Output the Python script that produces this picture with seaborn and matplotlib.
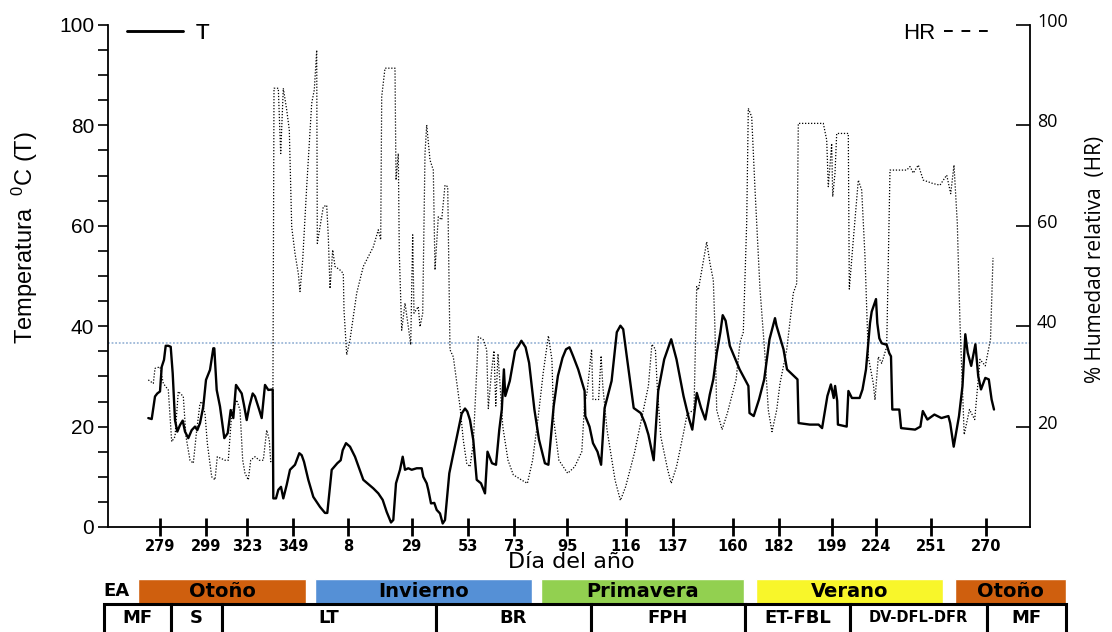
import matplotlib
matplotlib.use("Agg")
import matplotlib.pyplot as plt
import matplotlib.transforms as mtransforms
from matplotlib.lines import Line2D
from matplotlib.ticker import MultipleLocator
import numpy as np
import pandas as pd
import seaborn as sns

# ---------------------------------------------------------------------------
# Series: position along the record (x) and reading
# ---------------------------------------------------------------------------
t_pos = [40.3, 43.7, 47, 49.3, 52, 53.7, 56, 57.7, 60.3, 62.7, 64.7, 67, 69.3, 72, 74.7, 77,
         80.3, 83.7, 87, 89.3, 92, 95.3, 98, 102, 105.3, 106.3, 108.7, 112, 116.3, 119.7, 122.7,
         125.3, 128, 130.3, 133.7, 136, 138.7, 141.3, 144.7, 147, 151.3, 153.7, 157, 160.3, 164.7,
         165.3, 168, 170.3, 173, 175.3, 178.7, 182, 187, 191.3, 193.7, 196, 200.3, 205.3, 212, 217,
         219.3, 223.7, 229.3, 232.7, 234.7, 238, 242, 247, 255.3, 265.3, 270.3, 274.7, 278.7, 283,
         285.3, 288, 292, 294.7, 297, 300.3, 303.7, 308.7, 313.7, 315.3, 318.7, 320.3, 323, 326.3,
         328.7, 332, 334.7, 337, 341.3, 344.7, 350.3, 353.7, 357, 359.3, 362, 365.3, 368.7, 373,
         377, 379.5, 384, 388, 391.3, 393.8, 395.9, 397.3, 401.8, 407.1, 410.6, 413.4, 417.6,
         421.1, 426.4, 431, 436.9, 440.4, 445.7, 449.9, 454.5, 458, 461.5, 465, 470.2, 476.6,
         477.3, 481.5, 485, 489.5, 493.1, 496.6, 503.6, 508.8, 512.4, 515.2, 518.7, 525.7, 532.7,
         536.9, 540.4, 545.7, 550.2, 556.2, 563.2, 568.5, 575.5, 580.8, 584.3, 588.8, 593.1,
         597.3, 601.8, 605.3, 608.8, 612.4, 614.7, 617.6, 621.8, 631.6, 640.4, 641.5, 645.7, 651,
         656.2, 661.5, 667, 668.5, 675.5, 679, 689.5, 690.6, 701.8, 710.6, 714.1, 719.4, 722.9,
         725.7, 727.1, 729.2, 729.9, 738.7, 740.4, 743.9, 751.6, 754.5, 758, 762, 763.7, 768,
         769.3, 771.3, 773.7, 778.7, 781.3, 783, 784.3, 791.3, 793.1, 807.1, 812.4, 814.8, 819.4,
         826.4, 833.4, 840.4, 842.2, 845.7, 851, 854.5, 857.3, 859.7, 863.2, 867.4, 870.2, 873,
         877.3, 880.8, 883.6, 886]
t_val = [21.7, 21.5, 26.0, 26.6, 27.0, 31.9, 33.3, 36.1, 36.1, 35.9, 30.6, 21.3, 19.0, 20.3, 21.2,
         19.0, 17.7, 19.3, 20.0, 19.3, 20.7, 24.0, 29.3, 31.3, 35.6, 35.6, 27.3, 24.0, 17.7, 18.7,
         23.3, 21.7, 28.3, 27.6, 26.6, 24.3, 21.3, 24.0, 26.6, 26.0, 23.3, 21.7, 28.3, 27.3, 27.4,
         5.7, 5.7, 7.4, 8.0, 5.7, 8.4, 11.4, 12.4, 14.7, 14.3, 13.0, 9.4, 6.0, 4.0, 2.8,
         2.8, 11.4, 12.7, 13.3, 15.3, 16.7, 16.0, 14.0, 9.4, 7.7, 6.7, 5.4, 3.0, 0.9,
         1.4, 8.7, 11.4, 14.0, 11.4, 11.7, 11.4, 11.7, 11.7, 10.0, 8.7, 7.4, 4.7, 4.8,
         3.4, 2.7, 0.7, 1.4, 10.7, 14.0, 19.3, 22.6, 23.6, 23.0, 21.3, 17.3, 9.4, 8.7,
         6.7, 15.0, 12.7, 12.4, 19.4, 23.4, 31.4, 26.1, 29.1, 35.1, 36.1, 37.1, 35.8,
         32.7, 23.4, 17.4, 12.7, 12.4, 24.1, 30.1, 33.7, 35.4, 35.8, 34.1, 31.4, 27.1,
         22.1, 20.0, 16.7, 15.0, 12.4, 23.7, 29.1, 38.8, 40.1, 39.4, 34.1, 23.7, 22.7,
         20.7, 18.4, 13.3, 27.1, 33.4, 37.4, 33.4, 26.1, 21.7, 19.4, 26.7, 23.7,
         21.4, 26.4, 29.4, 34.7, 38.8, 42.2, 41.1, 36.1, 31.4, 28.1, 22.7, 22.1, 25.4,
         29.4, 37.4, 41.6, 40.1, 35.4, 31.4, 29.4, 20.7, 20.4, 20.4, 19.7, 26.1, 28.4,
         25.7, 28.1, 25.1, 20.4, 20.0, 27.1, 25.7, 25.7, 27.4, 31.4, 40.6, 42.9, 45.4,
         40.6, 37.6, 36.6, 36.3, 34.6, 34.0, 23.4, 23.4, 19.7, 19.4, 20.0, 23.1, 21.4,
         22.4, 21.7, 22.1, 20.7, 16.0, 22.1, 28.1, 38.4, 34.7, 32.1, 36.4, 30.1, 27.4,
         29.7, 29.4, 25.4, 23.4]

hr_pos = [40.3, 45.3, 47, 52, 55.3, 60.3, 63.7, 67, 70.3, 75.3, 78, 82, 85.3, 88.7, 92, 93.7, 97,
          99.3, 103.7, 107, 109.3, 112.7, 117, 120.3, 123.7, 128.7, 132, 134.7, 137, 140.3,
          142.7, 147, 151.3, 155.3, 158.7, 161.3, 162.7, 164.7, 166, 170.3, 172.7, 175.3, 178.7,
          181.3, 183.7, 187, 190.3, 192, 194.7, 198.7, 203.7, 206.3, 208.7, 209.3, 212, 215.3,
          218.7, 220.3, 222, 224.7, 227, 232, 235.3, 236, 238.7, 242, 248.7, 255.3, 265.3, 270.3,
          272.7, 273.7, 277, 287, 288, 290.3, 291.3, 293.7, 297, 300.3, 302.7, 304.7, 306, 310.3,
          312, 314.7, 317, 318.7, 322, 325.3, 327, 330.3, 333.7, 337, 339.7, 342, 345.3, 352,
          355.3, 358.7, 362, 365.3, 370.3, 375.3, 378.7, 380.3, 383.7, 386, 387.8, 390, 394.8,
          400, 405.3, 414.1, 419.4, 424.6, 429.9, 435.2, 440.4, 443.9, 445.7, 450.9, 459.7,
          466.7, 473.8, 476.6, 479, 483.6, 485, 490.6, 493.1, 494.8, 499, 507.1, 512.4, 517.6,
          526.4, 533.4, 540.4, 543.9, 547.4, 549.2, 552.7, 559.7, 563.2, 568.5, 575.5, 579, 586,
          588.7, 590.3, 598.7, 602, 605.3, 607, 608.7, 614.1, 619.4, 628.1, 632, 635.3, 638.7,
          640.3, 643.7, 647, 652, 657, 660.3, 664, 668.7, 672, 678.7, 685.3, 688.7, 690.3, 715.3,
          718.7, 720.3, 723.7, 724.7, 727, 728.7, 740.3, 741.3, 745.3, 750.3, 753.7, 757, 760.3,
          765.3, 767, 770.3, 773.7, 778.7, 782, 798.7, 802, 805.3, 810.3, 815.3, 825.3, 832,
          838.7, 842.7, 846, 849.3, 852, 855.3, 856.2, 861.5, 866.7, 872, 877.3, 882.5, 885]
hr_val = [29.3, 28.6, 31.6, 31.9, 28.6, 27.3, 17.0, 18.0, 27.0, 26.0, 18.0, 13.3, 12.7, 19.3, 24.6,
          25.0, 22.6, 16.7, 10.0, 9.4, 14.0, 13.7, 13.3, 13.3, 22.6, 25.3, 23.3, 13.3, 10.7, 9.4,
          13.3, 14.0, 13.3, 13.3, 19.3, 17.3, 13.0, 13.3, 87.4, 87.4, 74.4, 87.4, 83.1,
          79.1, 59.8, 54.5, 50.5, 46.9, 53.2, 67.8, 84.4, 87.1, 95.0, 56.5, 59.8, 63.8,
          64.1, 57.8, 47.5, 55.2, 51.9, 51.2, 50.5, 43.2, 34.3, 37.3, 46.6, 51.9, 55.8, 59.2,
          57.2, 85.7, 91.4, 91.4, 69.1, 74.4, 54.5, 39.2, 44.6, 39.9, 36.3, 58.2, 42.6, 43.9,
          39.9, 42.6, 74.4, 80.1, 73.1, 71.1, 51.2, 61.8, 61.2, 68.1, 67.8, 35.3, 33.9, 24.0,
          17.3, 12.7, 12.0, 16.7, 37.9, 37.3, 35.3, 23.6, 31.3, 35.1, 24.1, 34.5, 20.0,
          13.3, 10.4, 9.3, 8.7, 13.3, 21.4, 30.7, 38.1, 33.4, 21.4, 13.3, 10.7,
          12.0, 15.0, 24.7, 26.7, 35.4, 25.4, 25.4, 34.1, 28.1, 19.4, 9.3, 5.3, 8.0,
          14.7, 21.4, 28.1, 36.4, 35.4, 28.1, 18.1, 11.4, 8.7, 12.0, 18.7, 22.4, 23.4,
          47.9, 47.2, 56.8, 52.5, 49.2, 39.2, 23.3, 19.4, 22.7, 29.4, 36.8, 38.8, 60.7,
          83.4, 81.7, 67.3, 47.4, 34.1, 23.3, 19.0, 23.3, 28.6, 35.3, 46.6, 48.5, 80.4, 80.4,
          77.1, 67.8, 76.4, 65.8, 70.5, 78.4, 78.4, 47.4, 57.2, 69.1, 67.1, 53.8, 33.9,
          28.6, 25.3, 33.9, 32.6, 35.9, 71.1, 71.1, 71.8, 70.5, 72.1, 69.1, 68.4, 68.1,
          70.1, 66.4, 72.1, 60.5, 40.6, 23.3, 18.4, 23.4, 21.4, 33.4, 32.1, 37.4, 53.6]

hr_reference = 36.6

# Day-of-year tick labels and where they fall along the record
day_ticks = [52, 98, 139, 185, 240, 304, 360, 406, 459, 518, 565, 625, 671, 724, 768, 823, 878]
day_labels = ["279", "299", "323", "349", "8", "29", "53", "73", "95", "116", "137", "160",
              "182", "199", "224", "251", "270"]

# Seasons band
season_names = ["Otoño", "Invierno", "Primavera", "Verano", "Otoño"]
season_start = [30, 207, 433, 648, 847]
season_end = [198, 424, 636, 835, 958]
season_colors = ["#CF5F0E", "#5590D6", "#92D050", "#F8F62A", "#CF5F0E"]

# Phenological stages row
stage_names = ["MF", "S", "LT", "BR", "FPH", "ET-FBL", "DV-DFL-DFR", "MF"]
stage_edges = [-4, 63, 114, 328, 483, 637, 742, 879, 958]

# ---------------------------------------------------------------------------
sns.set_style("ticks")
plt.rcParams["font.family"] = ["Liberation Sans", "DejaVu Sans"]
plt.rcParams["mathtext.fontset"] = "custom"
plt.rcParams["mathtext.rm"] = "Liberation Sans"
for key in ("text.color", "axes.labelcolor", "xtick.color", "ytick.color", "axes.edgecolor"):
    plt.rcParams[key] = "black"

W, H = 1112, 632
fig = plt.figure(figsize=(W / 100, H / 100), dpi=100)
ax = fig.add_axes([108 / W, 1 - 527 / H, 922 / W, 502 / H])
ax2 = ax.twinx()

df_t = pd.DataFrame({"pos": t_pos, "T": t_val})
df_hr = pd.DataFrame({"pos": hr_pos, "HR": hr_val})

ax.axhline(hr_reference, color="#9DB8D8", lw=1.3, ls=(0, (1, 1)), zorder=1)
sns.lineplot(data=df_t, x="pos", y="T", ax=ax, color="black", lw=1.7,
             estimator=None, sort=False, legend=False)
sns.lineplot(data=df_hr, x="pos", y="HR", ax=ax2, color="black", lw=0.9,
             ls=(0, (1, 1.4)), estimator=None, sort=False, legend=False)

for a in (ax, ax2):
    a.set_xlim(0, 922)
    a.set_ylim(0, 100)
    a.spines["top"].set_visible(False)
ax.spines["right"].set_visible(False)
ax2.spines["left"].set_visible(False)
ax2.spines["bottom"].set_visible(False)
for s in ("left", "bottom"):
    ax.spines[s].set_linewidth(1.3)
ax2.spines["right"].set_linewidth(1.3)

# Left axis: temperature
ax.set_yticks([0, 20, 40, 60, 80, 100])
ax.yaxis.set_minor_locator(MultipleLocator(5))
ax.tick_params(axis="y", which="both", direction="out", length=7, width=1.2, pad=3,
               labelsize=15, colors="black")
ax.set_ylabel(r"Temperatura  $\mathregular{^0}$C (T)", fontsize=17)
ax.yaxis.set_label_coords(-0.074, 0.576)

# Bottom axis: day of year
ax.set_xticks(day_ticks)
ax.set_xticklabels(day_labels, fontfamily="DejaVu Sans", fontweight="bold", fontsize=10.5)
ax.tick_params(axis="x", direction="inout", length=13, width=2, pad=2)
ax.set_xlabel("Día del año", fontsize=16, fontfamily="DejaVu Sans")
ax.xaxis.set_label_coords(0.503, -0.05)

# Right axis: relative humidity
ax2.set_yticks([20, 40, 60, 80, 100])
ax2.tick_params(axis="y", direction="in", length=10, width=1.2, pad=5, labelsize=13)
shift = mtransforms.ScaledTranslation(0, 5 / 100, fig.dpi_scale_trans)
for lbl in ax2.get_yticklabels():
    lbl.set_fontfamily("Open Sans")
    lbl.set_transform(lbl.get_transform() + shift)
ax2.set_ylabel("% Humedad relativa  (HR)", fontsize=15, fontfamily="Open Sans")
ax2.yaxis.set_label_coords(1.06, 0.532)

# Legends
leg_t = ax.legend(handles=[Line2D([], [], color="black", lw=1.8)], labels=["T"],
                  loc="center left", bbox_to_anchor=(0.0206, 0.984), frameon=False,
                  borderpad=0, borderaxespad=0, handlelength=2.5, handletextpad=0.6,
                  prop={"family": "Liberation Sans", "size": 16})
ax.add_artist(leg_t)
ax2.legend(handles=[Line2D([], [], color="black", lw=1.4, ls=(0, (4.5, 4.5)))], labels=["HR"],
           loc="center right", bbox_to_anchor=(0.962, 0.984), frameon=False, markerfirst=False,
           borderpad=0, borderaxespad=0, handlelength=2.3, handletextpad=0.4,
           prop={"family": "Liberation Sans", "size": 16})

# Season and stage band under the chart
band = fig.add_axes([108 / W, 0, 922 / W, 53 / H])
band.set_xlim(0, 922)
band.set_ylim(0, 53)
band.axis("off")
s_start = np.array(season_start)
s_end = np.array(season_end)
band.barh(y=40.5, width=s_end - s_start, left=s_start, height=25, color=season_colors,
          clip_on=False)
for name, a0, a1 in zip(season_names, s_start, s_end):
    band.text((a0 + a1) / 2, 40.5, name, ha="center", va="center", fontsize=14,
              fontweight="bold", fontfamily="DejaVu Sans", clip_on=False)
band.text(-5, 40.5, "EA", ha="left", va="center", fontsize=13, fontweight="bold",
          fontfamily="DejaVu Sans", clip_on=False)

edges = np.array(stage_edges)
band.barh(y=9, width=np.diff(edges), left=edges[:-1], height=38, facecolor="white",
          edgecolor="black", linewidth=2.2, clip_on=False)
for name, a0, a1 in zip(stage_names, edges[:-1], edges[1:]):
    size = 10.5 if len(name) > 7 else 13
    band.text((a0 + a1) / 2, 14, name, ha="center", va="center", fontsize=size,
              fontweight="bold", fontfamily="DejaVu Sans", clip_on=False)

fig.savefig("out.png", dpi=100)
